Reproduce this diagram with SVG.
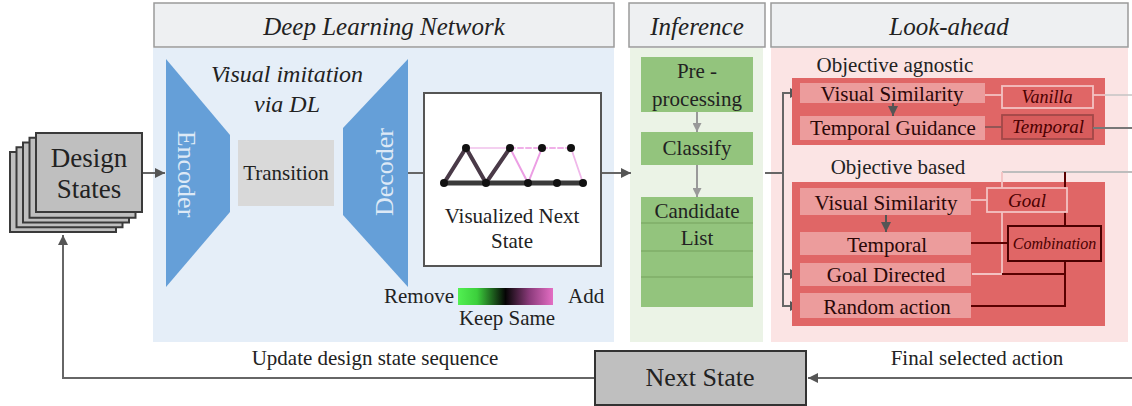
<svg xmlns="http://www.w3.org/2000/svg" width="1132" height="406" viewBox="0 0 1132 406">
<defs>
<style>
text{font-family:"Liberation Serif","Times New Roman",serif;fill:#222;}
.hdr{fill:#eef0f2;stroke:#9a9a9a;stroke-width:1.5;}
.hdrt{font-size:25px;font-style:italic;text-anchor:middle;}
.t21{font-size:21px;text-anchor:middle;}
.it{font-style:italic;fill:#4a0000;text-anchor:middle;}
.stack{fill:#bfbfbf;stroke:#3a3a3a;stroke-width:2;}
.trap{fill:#659fd8;}
.vert{font-size:26px;fill:#dde9f6;text-anchor:middle;}
.gbox{fill:#93c47d;}
.rbox{fill:#e06666;}
.lbox{fill:#ec9c9c;}
.rt{fill:#2a0808;}
.conn{fill:none;stroke:#666;stroke-width:2;}
.lconn{fill:none;stroke:#999;stroke-width:2;}
.light{fill:none;stroke:#f3c2c2;stroke-width:1.8;}
.dark{fill:none;stroke:#5a0000;stroke-width:2;}
</style>
<marker id="ah" viewBox="0 0 10 10" refX="10" refY="5" markerWidth="11" markerHeight="10" markerUnits="userSpaceOnUse" orient="auto"><path d="M0,0 L10,5 L0,10 z" fill="#555"/></marker>
<marker id="ahg" viewBox="0 0 10 10" refX="10" refY="5" markerWidth="10" markerHeight="9" markerUnits="userSpaceOnUse" orient="auto"><path d="M0,0 L10,5 L0,10 z" fill="#999"/></marker>
<linearGradient id="grad" x1="0" y1="0" x2="1" y2="0">
<stop offset="0" stop-color="#52f052"/>
<stop offset="0.2" stop-color="#3ccf3c"/>
<stop offset="0.5" stop-color="#050505"/>
<stop offset="0.75" stop-color="#8a3a7a"/>
<stop offset="1" stop-color="#e46ec4"/>
</linearGradient>
</defs>

<!-- panels -->
<g id="panel-dl">
<rect x="153" y="48" width="461" height="294" fill="#e5eef8"/>
<rect class="hdr" x="154" y="3" width="460" height="44"/>
<text class="hdrt" x="384" y="35">Deep Learning Network</text>
</g>
<g id="panel-inf">
<rect x="630" y="48" width="133" height="294" fill="#ebf3e6"/>
<rect class="hdr" x="629" y="3" width="136" height="44"/>
<text class="hdrt" x="697" y="35">Inference</text>
</g>
<g id="panel-la">
<rect x="771" y="48" width="357" height="294" fill="#fbe4e4"/>
<rect class="hdr" x="771" y="3" width="357" height="44"/>
<text class="hdrt" x="949" y="35">Look-ahead</text>
</g>

<!-- connectors -->
<g id="connectors">
<line class="conn" x1="142" y1="173" x2="165" y2="173" marker-end="url(#ah)"/>
<line class="conn" x1="407" y1="173" x2="424" y2="173"/>
<line class="conn" x1="601" y1="173" x2="631" y2="173" marker-end="url(#ah)"/>
<line class="lconn" x1="697" y1="112" x2="697" y2="132" marker-end="url(#ahg)"/>
<line class="lconn" x1="697" y1="165" x2="697" y2="197" marker-end="url(#ahg)"/>
<polyline class="conn" points="765,173 783,173"/>
<line class="conn" x1="783" y1="92" x2="783" y2="306"/>
<line class="conn" x1="782" y1="93" x2="800" y2="93" marker-end="url(#ah)"/>
<line class="conn" x1="782" y1="274" x2="800" y2="274" marker-end="url(#ah)"/>
<line class="conn" x1="782" y1="306" x2="800" y2="306" marker-end="url(#ah)"/>
<polyline class="conn" points="595,378 63,378 63,235" marker-end="url(#ah)"/>
<line class="conn" x1="1132" y1="378" x2="808" y2="378" marker-end="url(#ah)"/>
</g>

<!-- design states -->
<g id="design-states">
<rect class="stack" x="10" y="152" width="106" height="80"/>
<rect class="stack" x="16.5" y="147.25" width="106" height="80"/>
<rect class="stack" x="23" y="142.5" width="106" height="80"/>
<rect class="stack" x="29.5" y="137.75" width="106" height="80"/>
<rect class="stack" x="36" y="133" width="106" height="79"/>
<text x="89" y="167" font-size="27" text-anchor="middle">Design</text>
<text x="89" y="198" font-size="27" text-anchor="middle">States</text>
</g>

<g id="imitation-label">
<text x="287" y="82" font-size="24" font-style="italic" text-anchor="middle">Visual imitation</text>
<text x="287" y="112" font-size="24" font-style="italic" text-anchor="middle">via DL</text>
</g>

<g id="encoder">
<polygon class="trap" points="166,59 230,135 230,212 166,287"/>
<text class="vert" transform="translate(187,174) rotate(90)" y="9">Encoder</text>
</g>

<g id="transition">
<rect x="238" y="140" width="96" height="66" fill="#d9d9d9"/>
<text class="t21" x="286" y="180">Transition</text>
</g>

<g id="decoder">
<polygon class="trap" points="343,128 408,59 408,287 343,215"/>
<text class="vert" transform="translate(384,172) rotate(-90)" y="9">Decoder</text>
</g>

<g id="visualized-next-state">
<rect x="424" y="93" width="177" height="173" fill="#fff" stroke="#555" stroke-width="2"/>
<g fill="none" stroke-linecap="round">
<line x1="466" y1="148" x2="510" y2="148" stroke="#f4d0f0" stroke-width="2"/>
<line x1="510" y1="148" x2="571" y2="148" stroke="#f0b0e8" stroke-width="2" stroke-dasharray="5,3"/>
<polyline points="510,148 528,183 542,148" stroke="#ec9ee4" stroke-width="2"/>
<line x1="571" y1="148" x2="583" y2="183" stroke="#f0b8ea" stroke-width="1.8"/>
<line x1="444" y1="183" x2="583" y2="183" stroke="#3a3a3a" stroke-width="5"/>
<polyline points="444,183 466,148 486,183 510,148" stroke="#4a3a48" stroke-width="4"/>
</g>
<g fill="#111">
<circle cx="444" cy="183" r="4"/><circle cx="486" cy="183" r="4"/><circle cx="528" cy="183" r="4"/><circle cx="557" cy="183" r="4"/><circle cx="583" cy="183" r="4"/>
<circle cx="466" cy="148" r="4"/><circle cx="510" cy="148" r="4"/><circle cx="542" cy="148" r="4"/><circle cx="571" cy="148" r="4"/>
</g>
<text class="t21" x="512" y="223">Visualized Next</text>
<text class="t21" x="512" y="248">State</text>
</g>

<g id="legend">
<rect x="458" y="288" width="95" height="17" fill="url(#grad)"/>
<text x="454" y="303" font-size="21" text-anchor="end">Remove</text>
<text x="568" y="303" font-size="21">Add</text>
<text class="t21" x="507" y="325">Keep Same</text>
</g>

<g id="preprocessing">
<rect class="gbox" x="641" y="57" width="112" height="55"/>
<text class="t21" x="697" y="78">Pre -</text>
<text class="t21" x="697" y="106">processing</text>
</g>
<g id="classify">
<rect class="gbox" x="641" y="132" width="112" height="33"/>
<text class="t21" x="697" y="155">Classify</text>
</g>
<g id="candidate-list">
<rect class="gbox" x="641" y="197" width="112" height="110"/>
<g stroke="#7fae69" stroke-width="1.5">
<line x1="641" y1="223" x2="753" y2="223"/>
<line x1="641" y1="251" x2="753" y2="251"/>
<line x1="641" y1="277" x2="753" y2="277"/>
</g>
<text class="t21" x="697" y="218">Candidate</text>
<text class="t21" x="697" y="245">List</text>
</g>

<!-- look-ahead -->
<g id="objective-agnostic">
<text class="t21" x="895" y="72">Objective agnostic</text>
<rect class="rbox" x="792" y="78" width="313" height="67"/>
<rect class="lbox" x="800" y="83" width="185" height="20"/>
<rect class="lbox" x="800" y="116" width="185" height="24"/>
<line x1="893" y1="103" x2="893" y2="116" stroke="#555" stroke-width="2" marker-end="url(#ah)"/>
<text class="t21 rt" x="892" y="101">Visual Similarity</text>
<text class="t21 rt" x="893" y="135">Temporal Guidance</text>
<line class="light" x1="985" y1="95" x2="1002" y2="95"/>
<line x1="985" y1="127" x2="1002" y2="127" stroke="#8a5555" stroke-width="1.8"/>
<rect x="1002" y="86" width="91" height="22" fill="#e06666" stroke="#f3c2c2" stroke-width="1.8"/>
<text class="it" x="1047" y="103" font-size="18">Vanilla</text>
<rect x="1002" y="115" width="91" height="24" fill="#d85c5c" stroke="#a24848" stroke-width="1.8"/>
<text class="it" x="1048" y="133" font-size="19">Temporal</text>
<line class="light" x1="1093" y1="95" x2="1105" y2="95"/>
<line x1="1105" y1="95" x2="1132" y2="95" stroke="#c4c4c4" stroke-width="1.5"/>
<line x1="1093" y1="128" x2="1132" y2="128" stroke="#777" stroke-width="1.8"/>
</g>

<g id="objective-based">
<text class="t21" x="898" y="174">Objective based</text>
<line x1="1002" y1="172" x2="1132" y2="172" stroke="#bdbdbd" stroke-width="1.8"/>
<rect class="rbox" x="792" y="182" width="313" height="144"/>
<rect class="lbox" x="800" y="188" width="171" height="27"/>
<rect class="lbox" x="800" y="232" width="171" height="23"/>
<rect class="lbox" x="800" y="263" width="171" height="23"/>
<rect class="lbox" x="800" y="293" width="171" height="25"/>
<line x1="886" y1="215" x2="886" y2="232" stroke="#555" stroke-width="2" marker-end="url(#ah)"/>
<text class="t21 rt" x="886" y="210">Visual Similarity</text>
<text class="t21 rt" x="887" y="252">Temporal</text>
<text class="t21 rt" x="886" y="282">Goal Directed</text>
<text class="t21 rt" x="887" y="314">Random action</text>
<polyline class="light" points="1002,172 1002,274 972,274"/>
<line class="light" x1="971" y1="200" x2="987" y2="200"/>
<line class="dark" x1="1002" y1="274" x2="1065" y2="274"/>
<line class="dark" x1="1065" y1="172" x2="1065" y2="226"/>
<polyline class="dark" points="1065,261 1065,306 971,306"/>
<line class="dark" x1="971" y1="243" x2="1008" y2="243"/>
<rect x="987" y="188" width="80" height="24" fill="#e06666" stroke="#f3c2c2" stroke-width="1.8"/>
<text class="it" x="1027" y="207" font-size="19">Goal</text>
<rect x="1008" y="226" width="93" height="35" fill="#e06666" stroke="#4a0000" stroke-width="2"/>
<text class="it" x="1054.5" y="249" font-size="16">Combination</text>
</g>

<g id="labels">
<text class="t21" x="375" y="365">Update design state sequence</text>
<text class="t21" x="977" y="365">Final selected action</text>
</g>

<g id="next-state">
<rect x="595" y="351" width="211" height="54" fill="#bfbfbf" stroke="#333" stroke-width="2"/>
<text x="700" y="386" font-size="26" text-anchor="middle">Next State</text>
</g>
</svg>
